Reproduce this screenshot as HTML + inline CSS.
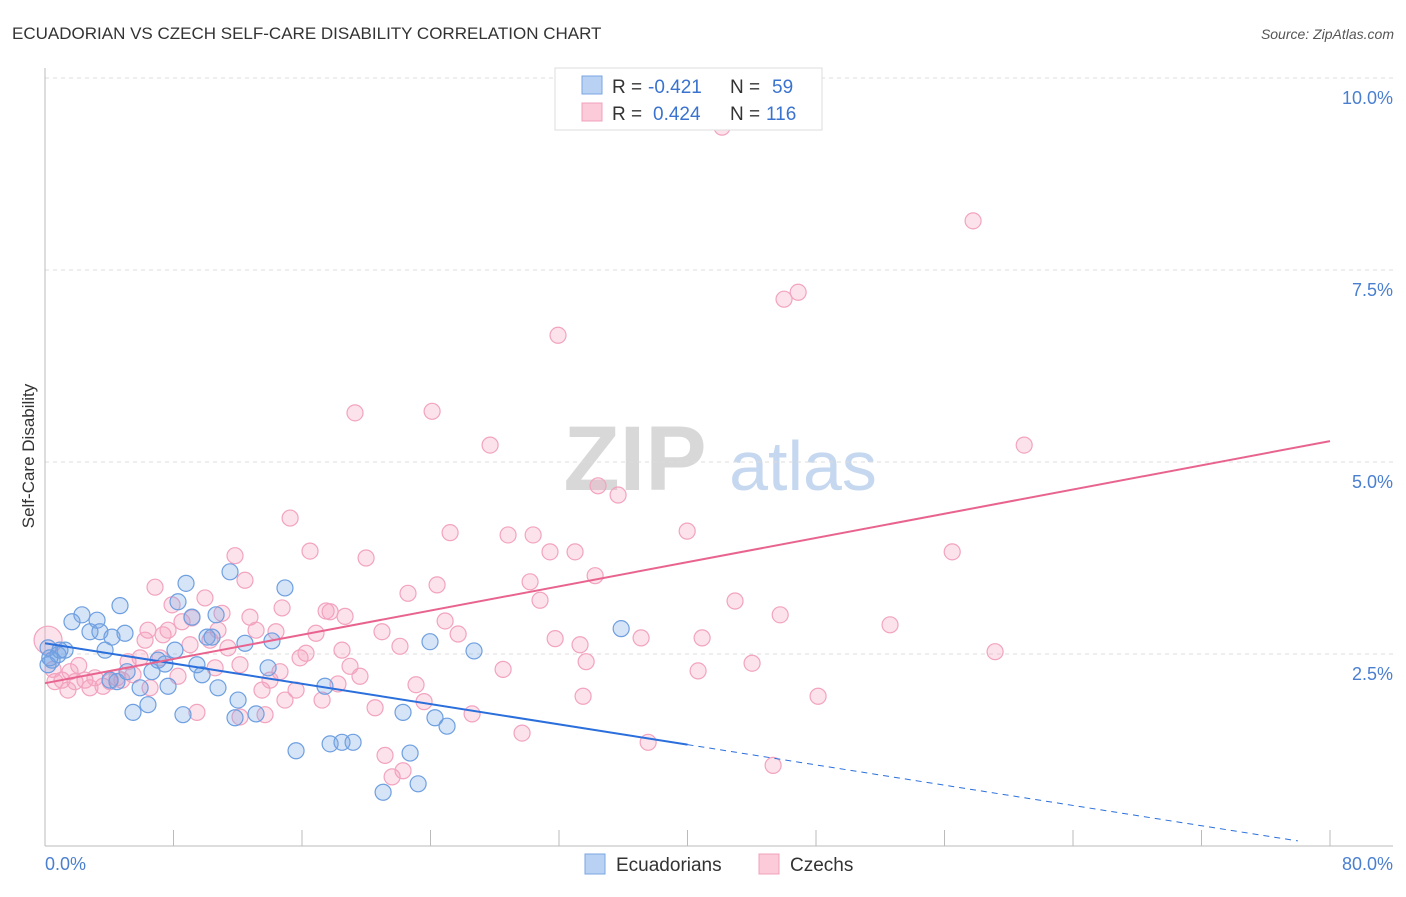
<!DOCTYPE html>
<html><head><meta charset="utf-8"><style>
body{margin:0;background:#fff;font-family:"Liberation Sans",sans-serif;}
svg text{font-family:"Liberation Sans",sans-serif;}
</style></head><body>
<svg id="chart" width="1406" height="892">
<text x="12" y="39" font-size="17" fill="#333">ECUADORIAN VS CZECH SELF-CARE DISABILITY CORRELATION CHART</text>
<text x="1394" y="39" font-size="14" fill="#555" font-style="italic" text-anchor="end">Source: ZipAtlas.com</text>
<g>
<text x="635" y="490" font-size="92" fill="#d8d8d8" font-family="Liberation Serif" text-anchor="middle" font-weight="bold">ZIP</text>
<text x="803" y="490" font-size="70" fill="#c6d8f0" text-anchor="middle">atlas</text>
</g>
<g id="grid"></g>
<g id="axes"></g>
<g id="pts"></g>
<g id="lines"></g>
<text x="34" y="456" font-size="17" fill="#333" transform="rotate(-90 34 456)" text-anchor="middle">Self-Care Disability</text>
<text x="45" y="870" font-size="18" fill="#4a7fd0">0.0%</text>
<text x="1393" y="870" font-size="18" fill="#4a7fd0" text-anchor="end">80.0%</text>
<g>
<rect x="555" y="68" width="267" height="62" fill="#fff" stroke="#ddd"/>
<rect x="582" y="76" width="20" height="18" fill="#b9d2f3" stroke="#7aa6e0"/>
<rect x="582" y="103" width="20" height="18" fill="#fbcbd9" stroke="#f0a0bc"/>
<text x="612" y="93" font-size="19" fill="#333">R =</text>
<text x="648" y="93" font-size="19" fill="#3a73cf">-0.421</text>
<text x="730" y="93" font-size="19" fill="#333">N =</text>
<text x="772" y="93" font-size="19" fill="#3a73cf">59</text>
<text x="612" y="120" font-size="19" fill="#333">R =</text>
<text x="653" y="120" font-size="19" fill="#3a73cf">0.424</text>
<text x="730" y="120" font-size="19" fill="#333">N =</text>
<text x="766" y="120" font-size="19" fill="#3a73cf">116</text>
</g>
<g>
<rect x="585" y="854" width="20" height="20" fill="#b9d2f3" stroke="#7aa6e0"/>
<text x="616" y="871" font-size="19" fill="#333">Ecuadorians</text>
<rect x="759" y="854" width="20" height="20" fill="#fbcbd9" stroke="#f0a0bc"/>
<text x="790" y="871" font-size="19" fill="#333">Czechs</text>
</g>
</svg>
<script>
const yTicks=[2.5,5.0,7.5,10.0];
const yTickLabels=["2.5%","5.0%","7.5%","10.0%"];
const xTicks=[0,8,16,24,32,40,48,56,64,72,80];
const blueX=[0.44,0.19,0.81,1.25,1.68,2.30,2.80,3.24,3.42,3.74,4.17,4.67,4.98,4.48,4.05,5.11,5.48,5.92,6.41,6.66,7.04,7.47,7.66,8.09,8.28,8.59,8.78,9.15,9.46,9.78,10.09,10.40,10.77,10.65,11.52,11.83,12.02,12.45,13.14,13.89,14.13,14.94,15.63,17.43,17.75,18.49,19.18,21.05,22.29,22.73,23.23,23.97,24.28,25.03,26.71,35.87,0.19,0.93,0.3];
const blueY=[2.42,2.58,2.49,2.55,2.92,3.01,2.79,2.94,2.79,2.55,2.72,3.13,2.77,2.14,2.16,2.27,1.74,2.06,1.84,2.27,2.42,2.37,2.08,2.55,3.18,1.71,3.42,2.98,2.36,2.23,2.72,2.72,2.06,3.01,3.57,1.67,1.90,2.64,1.72,2.32,2.67,3.36,1.24,2.08,1.33,1.35,1.35,0.70,1.74,1.21,0.81,2.66,1.67,1.56,2.54,2.83,2.36,2.55,2.45];
const pinkX=[0.19,0.62,1.06,1.43,1.87,2.49,2.80,3.11,3.61,4.05,4.48,4.79,5.17,5.48,5.92,6.23,6.41,6.85,7.16,7.35,7.66,7.91,8.28,8.53,9.03,9.15,9.46,9.96,10.27,10.59,10.77,11.02,11.39,11.83,12.14,12.45,12.76,13.14,13.51,13.70,14.01,14.38,14.76,14.94,15.26,15.63,15.88,16.25,16.50,16.87,17.25,17.50,17.75,18.24,18.49,18.68,18.99,19.30,19.61,19.99,20.55,20.98,21.17,21.61,22.10,22.29,22.60,23.10,23.60,24.10,24.41,24.91,25.22,25.72,26.59,27.71,28.52,28.83,29.70,30.20,30.39,30.82,31.44,31.76,31.94,33.00,33.31,33.69,33.50,34.25,34.43,35.68,37.11,37.55,39.98,40.66,40.91,42.15,42.96,44.02,45.33,45.77,46.01,46.89,48.13,52.61,56.48,57.78,59.15,60.96,12.14,14.63,6.54,1.56,0.5,2.1];
const pinkY=[2.68,2.14,2.16,2.03,2.14,2.16,2.06,2.19,2.08,2.14,2.19,2.16,2.40,2.23,2.45,2.68,2.81,3.37,2.45,2.75,2.81,3.14,2.21,2.92,2.62,2.97,1.74,3.23,2.68,2.32,2.81,3.03,2.58,3.78,1.68,3.46,2.98,2.81,2.03,1.71,2.16,2.79,3.10,1.90,4.27,2.03,2.45,2.51,3.84,2.77,1.90,3.06,3.05,2.11,2.55,2.99,2.34,5.64,2.21,3.75,1.80,2.79,1.18,0.90,2.60,0.98,3.29,2.10,1.88,5.66,3.40,2.93,4.08,2.76,1.72,5.22,2.30,4.05,1.47,3.44,4.05,3.20,3.83,2.70,6.65,3.83,2.62,2.40,1.95,3.52,4.69,4.57,2.71,1.35,4.10,2.28,2.71,9.36,3.19,2.38,1.05,3.01,7.12,7.21,1.95,2.88,3.83,8.14,2.53,5.22,2.36,2.27,2.06,2.27,2.3,2.35];
const blueFit=[2.64,-0.033];
const pinkFit=[2.12,0.0394];
const blueSolidEnd=40, blueDashEnd=78;

const NS="http://www.w3.org/2000/svg";
const X=v=>45+v/80*1285;
const Y=v=>846-v/2.5*192;
function mk(tag,attrs,parent){const e=document.createElementNS(NS,tag);for(const k in attrs)e.setAttribute(k,attrs[k]);document.getElementById(parent).appendChild(e);return e;}
yTicks.forEach((t,i)=>{
 const l=mk('line',{x1:45,x2:1393,y1:Y(t),y2:Y(t),stroke:'#ddd','stroke-dasharray':'4,4'},'grid');
 
 
 const tx=mk('text',{x:1393,y:Y(t)+26,'font-size':18,fill:'#4a7fd0','text-anchor':'end'},'grid');
 tx.textContent=yTickLabels[i];
 
 
});
const ax=mk('line',{x1:45,x2:45,y1:68,y2:846,stroke:'#bbb'},'axes');


const bx=mk('line',{x1:45,x2:1393,y1:846,y2:846,stroke:'#bbb'},'axes');


xTicks.forEach(t=>{
 const l=mk('line',{x1:X(t),x2:X(t),y1:830,y2:846,stroke:'#bbb'},'axes');
 
 
});
pinkX.forEach((v,i)=>{
 const c=mk('circle',{cx:X(v),cy:Y(pinkY[i]),r:i===0?14:8,fill:'rgba(245,160,188,0.3)',stroke:'#f2a3bf','stroke-width':1.2},'pts');
 
 
});
blueX.forEach((v,i)=>{
 const c=mk('circle',{cx:X(v),cy:Y(blueY[i]),r:8,fill:'rgba(120,165,230,0.3)',stroke:'#6e9fe0','stroke-width':1.2},'pts');
 
 
});
const bf=x=>blueFit[0]+blueFit[1]*x, pf=x=>pinkFit[0]+pinkFit[1]*x;
const l1=mk('line',{x1:X(0),y1:Y(bf(0)),x2:X(blueSolidEnd),y2:Y(bf(blueSolidEnd)),stroke:'#2a6fdb','stroke-width':2},'lines');


const l2=mk('line',{x1:X(blueSolidEnd),y1:Y(bf(blueSolidEnd)),x2:X(blueDashEnd),y2:Y(bf(blueDashEnd)),stroke:'#2a6fdb','stroke-width':1,'stroke-dasharray':'6,5'},'lines');


const l3=mk('line',{x1:X(0),y1:Y(pf(0)),x2:X(80),y2:Y(pf(80)),stroke:'#e8648f','stroke-width':2},'lines');


</script>
</body></html>
